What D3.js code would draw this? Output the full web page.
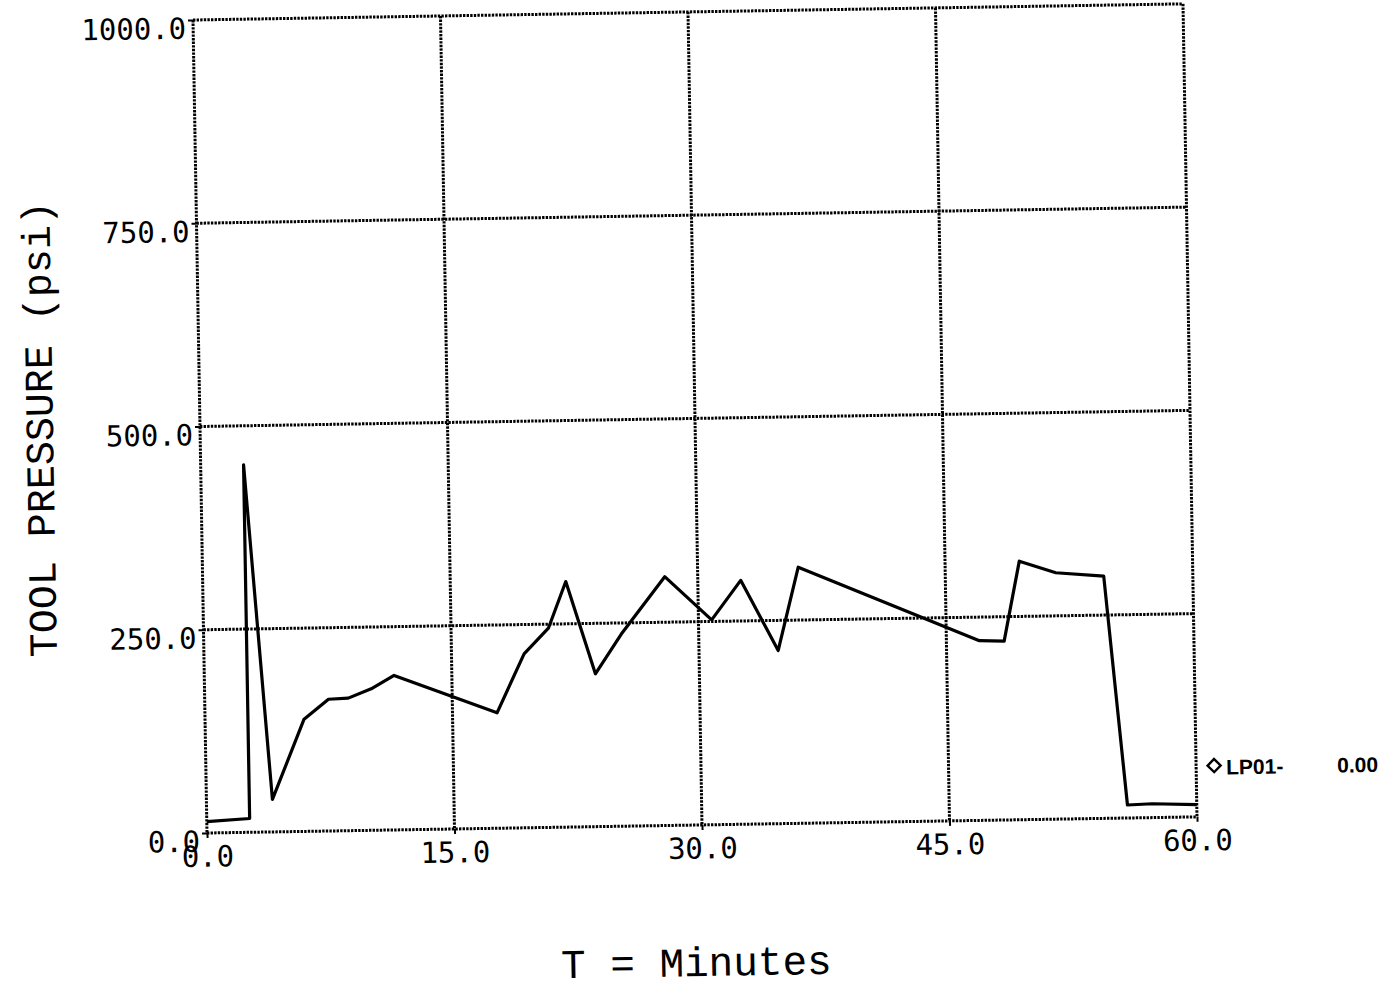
<!DOCTYPE html>
<html><head><meta charset="utf-8">
<script src="https://cdn.jsdelivr.net/npm/d3@7"></script>
<style>html,body{margin:0;padding:0;background:#fff;} svg{display:block;}</style>
</head><body>
<script>
// ---- data ----
const timeMin     = [0, 2.6, 2.6, 4.0, 6.0, 7.5, 8.7, 10.1, 11.5, 17.7, 19.4, 20.9, 22.0, 23.7, 25.3, 28.0, 30.8, 32.6, 34.8, 36.1, 47.0, 48.5, 49.5, 51.7, 54.6, 55.8, 57.3, 60.0];
const pressurePsi = [14, 17, 452, 40, 138, 162, 163, 174, 190, 142, 214, 245, 302, 188, 236, 306, 252, 300, 213, 315, 221, 220, 318, 303, 298, 16, 17, 15];
const xTicks = [0, 15, 30, 45, 60];
const yTicks = [0, 250, 500, 750, 1000];
const xTitle = "T = Minutes";
const yTitle = "TOOL PRESSURE (psi)";
const legendLabel = "LP01-";
const legendValue = "0.00";

const W = 1397, H = 988;
const pw = 990, ph = 813;

const svg = d3.select("body").append("svg").attr("width", W).attr("height", H);
svg.append("rect").attr("width", W).attr("height", H).attr("fill", "#fff");

// the scanned page is slightly skewed; reproduce with one transform
const g = svg.append("g").attr("transform", "matrix(1,-0.0163,0.0172,1,193,20)");

const x = d3.scaleLinear().domain([0, 60]).range([0, pw]);
const y = d3.scaleLinear().domain([0, 1000]).range([ph, 0]);

function dotted(sel) {
  return sel.attr("stroke", "#000").attr("stroke-width", 3)
            .attr("stroke-dasharray", "2.4 1.2").attr("fill", "none");
}

// horizontal grid (incl. top/bottom frame)
g.append("g").selectAll("line").data(yTicks).join("line")
  .attr("x1", 0).attr("x2", pw)
  .attr("y1", d => y(d)).attr("y2", d => y(d))
  .call(dotted);
// vertical grid (incl. left/right frame)
g.append("g").selectAll("line").data(xTicks).join("line")
  .attr("y1", 0).attr("y2", ph)
  .attr("x1", d => x(d)).attr("x2", d => x(d))
  .call(dotted);

// axes
const yAxis = d3.axisLeft(y).tickValues(yTicks).tickFormat(d3.format(".1f"))
  .tickSize(5).tickPadding(2);
g.append("g").call(yAxis)
  .attr("font-family", "DejaVu Sans Mono").attr("font-size", 29)
  .call(a => a.select(".domain").remove())
  .call(a => a.selectAll(".tick line").attr("stroke", "#000").attr("stroke-width", 2))
  .call(a => a.selectAll("text").attr("dy", "0.62em").attr("fill", "#000"));

const xAxis = d3.axisBottom(x).tickValues(xTicks).tickFormat(d3.format(".1f"))
  .tickSize(5).tickPadding(8);
g.append("g").attr("transform", `translate(0,${ph})`).call(xAxis)
  .attr("font-family", "DejaVu Sans Mono").attr("font-size", 29)
  .call(a => a.select(".domain").remove())
  .call(a => a.selectAll(".tick line").attr("stroke", "#000").attr("stroke-width", 2))
  .call(a => a.selectAll("text").attr("fill", "#000"));

// data line
const pts = timeMin.map((t, i) => [t, pressurePsi[i]]);
g.append("path").datum(pts)
  .attr("d", d3.line().x(d => x(d[0])).y(d => y(d[1])))
  .attr("fill", "none").attr("stroke", "#000").attr("stroke-width", 3.2)
  .attr("stroke-linejoin", "round");

// axis titles
g.append("text")
  .attr("transform", `translate(${-147},${ph / 2}) rotate(-90)`)
  .attr("text-anchor", "middle")
  .attr("font-family", "Liberation Mono").attr("font-size", 40).attr("fill", "#000")
  .text(yTitle);

g.append("text")
  .attr("x", 487).attr("y", ph + 151)
  .attr("text-anchor", "middle")
  .attr("font-family", "Liberation Mono").attr("font-size", 41).attr("fill", "#000")
  .text(xTitle);

// legend
const lg = g.append("g").attr("transform", `translate(${pw + 18},762)`);
lg.append("path")
  .attr("d", d3.symbol().type(d3.symbolSquare).size(85))
  .attr("transform", "rotate(45)")
  .attr("fill", "none").attr("stroke", "#000").attr("stroke-width", 2.4);
lg.append("text").attr("x", 12).attr("y", 9)
  .attr("font-family", "Liberation Sans").attr("font-weight", "bold")
  .attr("font-size", 21).attr("fill", "#000").text(legendLabel);
lg.append("text").attr("x", 123).attr("y", 9)
  .attr("font-family", "Liberation Sans").attr("font-weight", "bold")
  .attr("font-size", 21).attr("fill", "#000").text(legendValue);
</script>
</body></html>
